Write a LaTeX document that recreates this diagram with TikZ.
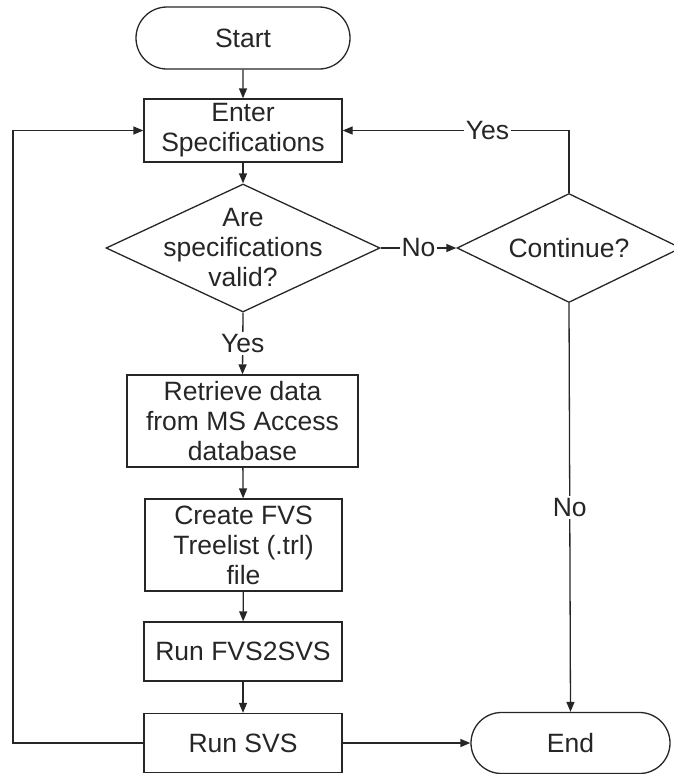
\documentclass[tikz,border=0pt]{standalone}
\usepackage{fontspec}
\setmainfont{Liberation Sans}
\usetikzlibrary{shapes.geometric,shapes.misc,arrows.meta}
\begin{document}
\begin{tikzpicture}[x=1pt,y=-1pt,
  font=\fontsize{26.5}{30}\selectfont,
  every node/.style={text=black!85},
  line/.style={draw=black!85, line width=1.3pt},
  arrow/.style={line, -{Triangle[length=10pt,width=8pt]}},
  terminal/.style={rounded rectangle, draw=black!85, line width=1.3pt, inner sep=0pt, align=center},
  procbox/.style={rectangle, draw=black!85, line width=1.3pt, inner sep=0pt, align=center},
  decision/.style={diamond, draw=black!85, line width=1.3pt, inner sep=0pt},
  decisiontext/.style={align=center, inner sep=0pt},
  lbl/.style={fill=white, inner sep=2pt}]
\useasboundingbox (0,0) rectangle (673,774);
\node[terminal, minimum width=214pt, minimum height=62pt] (start) at (243,38) {Start};
\node[procbox, minimum width=198pt, minimum height=63pt] (enter) at (243,130.5) {Enter\\Specifications};
\node[decision, minimum width=274pt, minimum height=128pt,
      label={[decisiontext]center:Are\\specifications\\valid?}] (valid) at (243,248) {};
\node[decision, minimum width=224pt, minimum height=109pt,
      label={[decisiontext]center:Continue?}] (cont) at (569,248) {};
\node[procbox, minimum width=231pt, minimum height=92pt] (retrieve) at (242.5,421) {Retrieve data\\from MS Access\\database};
\node[procbox, minimum width=197pt, minimum height=92pt] (create) at (243.5,545) {Create FVS\\Treelist (.trl)\\file};
\node[procbox, minimum width=198pt, minimum height=59pt] (fvs) at (243,651.5) {Run FVS2SVS};
\node[procbox, minimum width=198pt, minimum height=59pt] (runsvs) at (243,743) {Run SVS};
\node[terminal, minimum width=199pt, minimum height=61pt] (end) at (570.5,743) {End};
\coordinate (loopcorner) at (13,743);

\draw[arrow] (start) -- (enter);
\draw[arrow] (enter) -- (valid);
\draw[arrow] (valid.south) -- node[lbl] {Yes} (retrieve.north);
\draw[arrow] (valid.east) -- node[lbl] {No} (cont.west);
\draw[arrow] (cont.north) |- node[lbl, pos=0.68] {Yes} (enter.east);
\draw[arrow] (cont.south) -- node[lbl] {No} (end.north);
\draw[arrow] (retrieve) -- (create);
\draw[arrow] (create) -- (fvs);
\draw[arrow] (fvs) -- (runsvs);
\draw[arrow] (runsvs) -- (end);
\draw[arrow] (runsvs.west) -- (loopcorner) |- (enter.west);
\end{tikzpicture}
\end{document}
